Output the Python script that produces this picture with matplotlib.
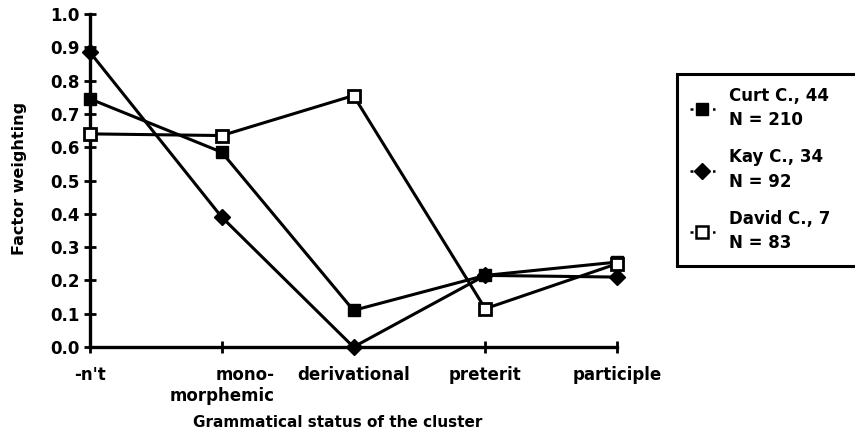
import matplotlib
matplotlib.use('Agg')
import matplotlib.pyplot as plt
from matplotlib.lines import Line2D

plt.rcParams['font.family'] = ['DejaVu Sans']
plt.rcParams['font.weight'] = 'bold'
plt.rcParams['axes.labelweight'] = 'bold'
plt.rcParams['font.size'] = 12

categories = ["-n't", "mono-\nmorphemic", "derivational", "preterit", "participle"]
curt = [0.745, 0.585, 0.11, 0.215, 0.255]
kay = [0.885, 0.39, 0.0, 0.215, 0.21]
david = [0.64, 0.635, 0.755, 0.115, 0.25]
labels = ["Curt C., 44\nN = 210", "Kay C., 34\nN = 92", "David C., 7\nN = 83"]
yticks = [0.0, 0.1, 0.2, 0.3, 0.4, 0.5, 0.6, 0.7, 0.8, 0.9, 1.0]

fig = plt.figure(figsize=(8.55, 4.34), dpi=100)
ax = fig.add_axes([90/855, 1-347/434, (617-90)/855, (347-14)/434])

x = list(range(len(categories)))
ax.plot(x, curt, color='k', lw=2.2, marker='s', ms=9, mfc='k', mec='k', clip_on=False, zorder=3)
ax.plot(x, kay, color='k', lw=2.2, marker='D', ms=8, mfc='k', mec='k', clip_on=False, zorder=3)
ax.plot(x, david, color='k', lw=2.2, marker='s', ms=9, mfc='white', mec='k', mew=2, clip_on=False, zorder=4)

ax.set_xlim(0, 4)
ax.set_ylim(0, 1.0)
ax.set_xticks(x)
ax.set_xticklabels(categories, multialignment='right')
ax.set_yticks(yticks)
ax.set_yticklabels(['%.1f' % v for v in yticks])
ax.tick_params(direction='inout', length=9, width=2)
ax.tick_params(axis='y', pad=3)
ax.tick_params(axis='x', pad=9)
for s in ('top', 'right'):
    ax.spines[s].set_visible(False)
for s in ('left', 'bottom'):
    ax.spines[s].set_linewidth(2.4)

ax.set_xlabel('Grammatical status of the cluster', fontsize=11)
ax.xaxis.set_label_coords(0.47, -0.205)
ax.set_ylabel('Factor weighting', fontsize=11.5)
ax.yaxis.set_label_coords(-0.12, 0.505)

handles = [
    Line2D([], [], color='k', lw=1.8, ls=(0, (1.2, 1.8)), marker='s', ms=9, mfc='k', mec='k'),
    Line2D([], [], color='k', lw=1.8, ls=(0, (1.2, 1.8)), marker='D', ms=8, mfc='k', mec='k'),
    Line2D([], [], color='k', lw=1.8, ls=(0, (1.2, 1.8)), marker='s', ms=9, mfc='white', mec='k', mew=1.8),
]
leg = fig.legend(handles, labels, loc='upper left',
                 bbox_to_anchor=(677/855, 1-78/434, 200/855, 0.01), mode='expand',
                 frameon=True, fancybox=False, framealpha=1, handlelength=1.45, handletextpad=0.85,
                 labelspacing=1.15, borderpad=0.8, borderaxespad=0)
for t in leg.get_texts():
    t.set_linespacing(1.45)
leg.get_frame().set_edgecolor('k')
leg.get_frame().set_linewidth(2.2)

fig.savefig('out.png', dpi=100)
